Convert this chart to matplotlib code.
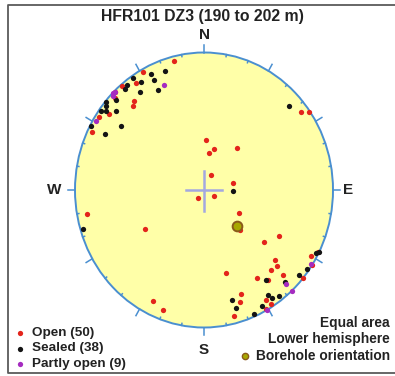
import numpy as np
import matplotlib
matplotlib.use("Agg")
import matplotlib.pyplot as plt
from matplotlib.patches import Ellipse

# pole orientations (trend, plunge) in degrees, read from the stereonet
open_trend = [346, 331, 326, 320, 318, 320, 314, 307, 303, 296, 53, 55, 2, 15, 9, 40,
              26, 77, 218, 121, 122, 136, 259, 238, 206, 200, 120, 129, 133, 134, 138,
              164, 147, 135, 143, 130, 123, 120, 117, 149, 148, 159, 161, 151, 166, 316]
open_plunge = [4, 2, 7, 17, 19, 1, 4, 9, 3, 4, 7, 1, 60, 65, 68, 57,
               80, 71, 84, 83, 64, 57, 8, 45, 11, 8, 33, 40, 26, 22, 23,
               37, 25, 14, 19, 0, 0, 5, 1, 7, 3, 20, 15, 1, 6, 1]

sealed_trend = [341, 334, 334, 326, 328, 334, 325, 320, 322, 314, 310, 310, 307, 306,
                298, 298, 306, 47, 91, 253, 144, 137, 130, 126, 118, 117, 147, 146,
                143, 165, 164, 152, 157, 309]
sealed_plunge = [9, 7, 12, 2, 8, 20, 14, 5, 3, 6, 1, 12, 5, 2,
                 1, 14, 22, 11, 72, 2, 20, 9, 4, 2, 2, 0, 10, 6,
                 4, 18, 12, 5, 2, 3]

partly_trend = [338, 315, 314, 301, 137, 137, 151, 123, 316]
partly_plunge = [19, 0, 2, 3, 7, 0, 0, 1, 1]

borehole_trend = [135]
borehole_plunge = [60]

legend_labels = ["Open (50)", "Sealed (38)", "Partly open (9)"]
colors = ["#e3241b", "#141414", "#a52bc0"]

W, H = 395, 376
CX, CY, RX, RY = 204, 190, 129, 137.5


def equal_area(trend, plunge):
    t = np.radians(np.asarray(trend, float))
    p = np.radians(np.asarray(plunge, float))
    r = np.sqrt(2) * np.sin((np.pi / 2 - p) / 2)
    return r * np.sin(t), r * np.cos(t)


def fx(px):
    return px / W


def fy(py):
    return 1 - py / H


plt.rcParams['font.family'] = ['Liberation Sans', 'DejaVu Sans']
fig = plt.figure(figsize=(W / 100, H / 100), dpi=100)
ax = fig.add_axes([0, 0, 1, 1])
ax.set_xlim(-CX / RX, (W - CX) / RX)
ax.set_ylim((CY - H) / RY, CY / RY)
ax.axis('off')

# frame: left, top and bottom only (right side is cut off in the reference)
ax.plot([1.05, fx(8), fx(8), 1.05], [fy(5), fy(5), fy(373), fy(373)],
        color='#5a5a5a', lw=1.3, transform=ax.transAxes, clip_on=True)

# net
ax.add_patch(Ellipse((0, 0), 2, 2, fc='#ffffa8', ec='#4a8fd0', lw=1.4, zorder=1))
for a in range(0, 360, 10):
    s, c = np.sin(np.radians(a)), np.cos(np.radians(a))
    if a % 30 == 0:
        r0, r1 = 1.0, 1.055
    else:
        r0, r1 = 0.985, 1.0
    ax.plot([r0 * s, r1 * s], [r0 * c, r1 * c], color='#4a8fd0', lw=1.1, zorder=2)

ax.plot([-0.14, 0.14], [0, 0], color='#a3a8e0', lw=1.8, zorder=2)
ax.plot([0, 0], [-0.15, 0.14], color='#a3a8e0', lw=1.8, zorder=2)

# poles
for tr, pl, col in [(open_trend, open_plunge, colors[0]),
                    (sealed_trend, sealed_plunge, colors[1]),
                    (partly_trend, partly_plunge, colors[2])]:
    x, y = equal_area(tr, pl)
    ax.plot(x, y, 'o', ms=3.8, mew=0, color=col, zorder=3)

bx, by = equal_area(borehole_trend, borehole_plunge)
ax.plot(bx, by, 'o', ms=7, mfc='#a8a800', mec='#8a5a1a', mew=1.4, zorder=4)

# labels
bold = dict(fontweight='bold', color='#222222', transform=ax.transAxes)
ax.text(fx(202), fy(17), "HFR101 DZ3 (190 to 202 m)", ha='center', va='center', fontsize=11.3, **bold)
ax.text(fx(204), fy(35), "N", ha='center', va='center', fontsize=11, **bold)
ax.text(fx(204), fy(350), "S", ha='center', va='center', fontsize=11, **bold)
ax.text(fx(54), fy(190), "W", ha='center', va='center', fontsize=11, **bold)
ax.text(fx(348), fy(190), "E", ha='center', va='center', fontsize=11, **bold)

for i, (lab, col) in enumerate(zip(legend_labels, colors)):
    yy = fy(333 + 15.5 * i)
    ax.plot([fx(20)], [yy], 'o', ms=3.8, mew=0, color=col, transform=ax.transAxes, clip_on=False)
    ax.text(fx(32), yy, lab, ha='left', va='center', fontsize=9.7, **bold)

ax.text(fx(390), fy(323), "Equal area", ha='right', va='center', fontsize=9.9, **bold)
ax.text(fx(390), fy(339), "Lower hemisphere", ha='right', va='center', fontsize=9.9, **bold)
ax.text(fx(390), fy(356), "Borehole orientation", ha='right', va='center', fontsize=9.9, **bold)
ax.plot([fx(245)], [fy(356)], 'o', ms=4.5, mfc='#a8a800', mec='#8a5a1a', mew=1.0,
        transform=ax.transAxes, clip_on=False)

fig.savefig("out.png", dpi=100)
